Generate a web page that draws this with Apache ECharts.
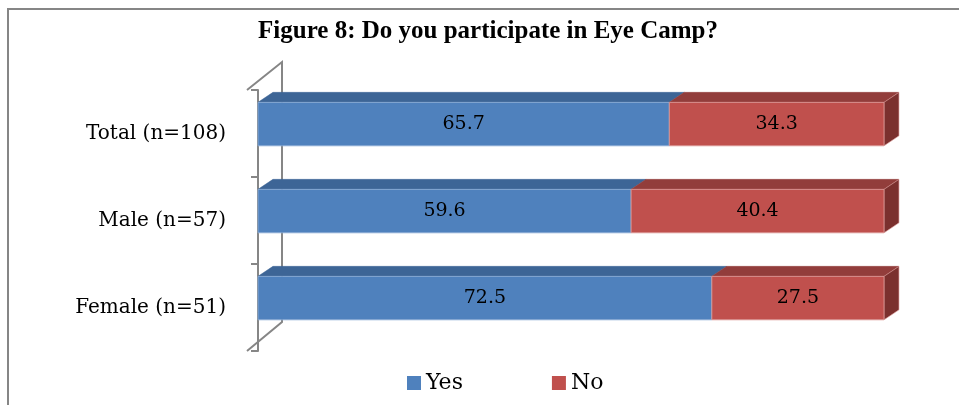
<!DOCTYPE html>
<html>
<head>
<meta charset="utf-8">
<script src="https://cdn.jsdelivr.net/npm/echarts@6/dist/echarts.min.js"></script>
<style>html,body{margin:0;padding:0;background:#fff;}#c{width:959px;height:405px;}</style>
</head>
<body>
<div id="c"></div>
<script>
const titleText = 'Figure 8: Do you participate in Eye Camp?';
const categories = ['Total (n=108)', 'Male (n=57)', 'Female (n=51)'];
const seriesNames = ['Yes', 'No'];
const yesValues = [65.7, 59.6, 72.5];
const noValues = [34.3, 40.4, 27.5];

const FONT = '"DejaVu Serif", "Liberation Serif", serif';
const TFONT = '"Liberation Serif", "DejaVu Serif", serif';
const styles = {
  Yes: { front: '#4F81BD', top: '#3D6596', side: '#35577f', edge: '#8fb0d8' },
  No:  { front: '#C0504D', top: '#923D3B', side: '#7B302E', edge: '#dd9c9a' }
};

function buildData(values, offsets) {
  return values.map((v, i) => [offsets[i], offsets[i] + v, i, v]);
}
const zeros = categories.map(() => 0);
const yesData = buildData(yesValues, zeros);
const noData = buildData(noValues, yesValues);

function makeRender(name, drawSide) {
  const st = styles[name];
  return function (params, api) {
    const cat = api.value(2);
    const s = api.coord([api.value(0), cat]);
    const e = api.coord([api.value(1), cat]);
    const band = api.size([0, 1])[1];
    const h = band * 0.5;
    const cy = s[1] - band * 0.108;
    const dx = band * 0.172, dy = band * 0.115;
    const x0 = s[0], x1 = e[0], y0 = cy - h / 2, y1 = cy + h / 2;
    const children = [
      { type: 'polygon', shape: { points: [[x0, y0], [x0 + dx, y0 - dy], [x1 + dx, y0 - dy], [x1, y0]] },
        style: { fill: st.top, stroke: st.top, lineWidth: 0.5 } }
    ];
    if (drawSide) {
      children.push({ type: 'polygon', shape: { points: [[x1, y0], [x1 + dx, y0 - dy], [x1 + dx, y1 - dy], [x1, y1]] },
        style: { fill: st.side, stroke: st.edge, lineWidth: 0.6 } });
    }
    children.push({ type: 'rect', shape: { x: x0, y: y0, width: x1 - x0, height: y1 - y0 },
      style: { fill: st.front, stroke: st.edge, lineWidth: 0.8 } });
    children.push({ type: 'text', style: { text: String(api.value(3)), x: (x0 + x1) / 2, y: cy,
      align: 'center', verticalAlign: 'middle', fill: '#000', font: '19px ' + FONT } });
    return { type: 'group', children: children };
  };
}

const chart = echarts.init(document.getElementById('c'), null, { renderer: 'canvas' });
chart.setOption({
  animation: false,
  backgroundColor: '#fff',
  title: { text: titleText, left: 483, top: 14, textAlign: 'center',
    textStyle: { fontFamily: TFONT, fontWeight: 'bold', fontSize: 25, color: '#000' } },
  legend: {
    data: seriesNames.map(n => ({ name: n, icon: 'rect' })),
    left: 407, top: 372, padding: 0, itemWidth: 14, itemHeight: 14, itemGap: 89,
    textStyle: { fontFamily: FONT, fontSize: 22, color: '#000' }
  },
  grid: { left: 258, right: 75, top: 90, bottom: 54 },
  xAxis: { type: 'value', min: 0, max: 100, show: false },
  yAxis: {
    type: 'category', data: categories, inverse: true, offset: 11,
    axisLine: { show: true, lineStyle: { color: '#868686', width: 2 } },
    axisTick: { show: true, length: 7, lineStyle: { color: '#868686', width: 2 } },
    axisLabel: { margin: 21, fontFamily: FONT, fontSize: 20, color: '#000' },
    splitLine: { show: false }
  },
  graphic: [
    { type: 'polyline', shape: { points: [[8, 405], [8, 9], [959, 9]] },
      style: { stroke: '#868686', lineWidth: 2, fill: null } },
    { type: 'polyline', shape: { points: [[247, 90], [282, 62], [282, 322], [247, 351]] },
      style: { stroke: '#868686', lineWidth: 2, fill: null } }
  ],
  series: [
    { name: 'Yes', type: 'custom', renderItem: makeRender('Yes', false), data: yesData,
      encode: { x: [0, 1], y: 2 }, itemStyle: { color: styles.Yes.front } },
    { name: 'No', type: 'custom', renderItem: makeRender('No', true), data: noData,
      encode: { x: [0, 1], y: 2 }, itemStyle: { color: styles.No.front } }
  ]
});
</script>
</body>
</html>
